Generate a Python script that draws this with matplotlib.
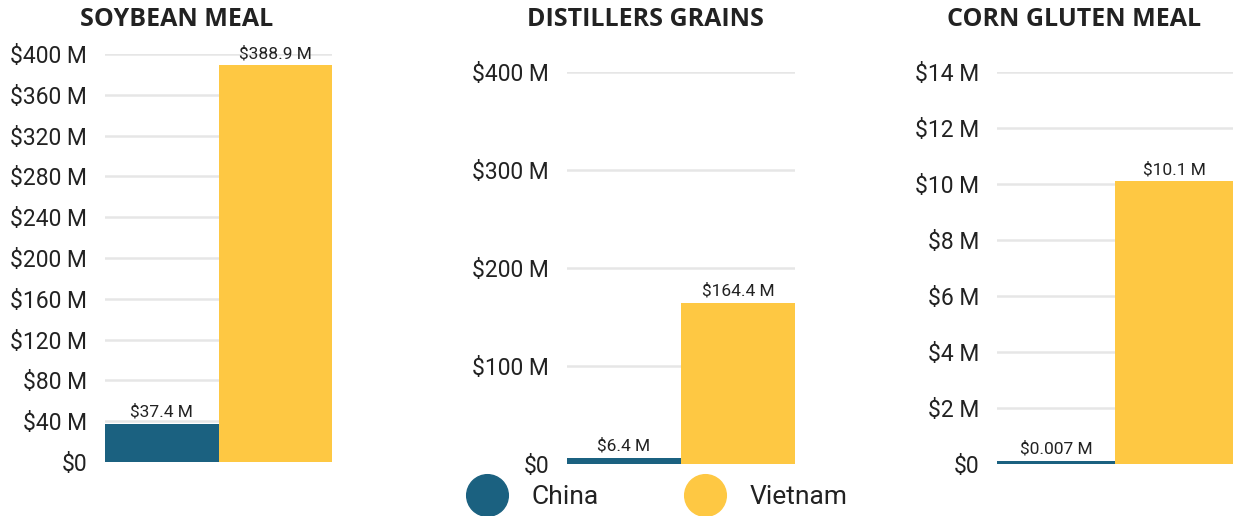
import numpy as np
import matplotlib
matplotlib.use("Agg")
from matplotlib import pyplot as plt
from matplotlib.lines import Line2D

# Data
countries = ["China", "Vietnam"]
products = ["SOYBEAN MEAL", "DISTILLERS GRAINS", "CORN GLUTEN MEAL"]
soybean_meal = [37.4, 388.9]
distillers_grains = [6.4, 164.4]
corn_gluten_meal = [0.007, 10.1]
value_labels = [["$37.4 M", "$388.9 M"],
                ["$6.4 M", "$164.4 M"],
                ["$0.007 M", "$10.1 M"]]
y_max = [400, 400, 14]
y_step = [40, 100, 2]

colors = ["#1b6180", "#fec843"]
grid_color = "#e6e6e6"
text_color = "#222222"

plt.rcParams["font.family"] = ["Roboto", "DejaVu Sans"]

W, H = 1234, 516
fig = plt.figure(figsize=(W / 100, H / 100), dpi=100)


def px_axes(left, right, top, bottom):
    return fig.add_axes([left / W, 1 - bottom / H, (right - left) / W,
                         (bottom - top) / H])


boxes = [(105, 332, 54, 462), (567, 795, 72, 464), (997, 1233, 72, 464)]
title_x = [177, 645, 1074]
series = [soybean_meal, distillers_grains, corn_gluten_meal]

for i, vals in enumerate(series):
    ax = px_axes(*boxes[i])
    top = y_max[i]
    # keep tiny values visible as a thin bar
    shown = np.maximum(vals, top * 0.008)
    ax.bar([0, 1], shown, width=1.0, color=colors, zorder=3)
    for x, v, lab in zip([0, 1], shown, value_labels[i]):
        ax.annotate(lab, (x, v), xytext=(0, 3), textcoords="offset points",
                    ha="center", va="bottom", fontsize=12.5,
                    color=text_color, zorder=4, annotation_clip=False)
    ax.set_xlim(-0.5, 1.5)
    ax.set_ylim(0, top)
    ticks = np.arange(0, top + y_step[i] / 2, y_step[i])
    ax.set_yticks(ticks)
    ax.set_yticklabels(["$0" if t == 0 else "${:g} M".format(t) for t in ticks])
    ax.tick_params(axis="y", length=0, pad=13, labelsize=16.5,
                   labelcolor=text_color)
    ax.set_xticks([])
    ax.grid(axis="y", color=grid_color, linewidth=1.8, zorder=0)
    for s in ax.spines.values():
        s.set_visible(False)
    fig.text(title_x[i] / W, 1 - 19 / H, products[i], ha="center",
             va="center", fontsize=18, fontweight="bold",
             family=["Open Sans", "DejaVu Sans"], color="#222222")

# Legend
handles = [Line2D([], [], marker="o", linestyle="none", markersize=30,
                  markerfacecolor=c, markeredgecolor=c) for c in colors]
fig.legend(handles, countries, loc="center", bbox_to_anchor=(654 / W, 1 - 497 / H),
           ncol=2, frameon=False, fontsize=19, handletextpad=0.7,
           columnspacing=3.0, labelcolor=text_color)

fig.savefig("out.png", dpi=100)
